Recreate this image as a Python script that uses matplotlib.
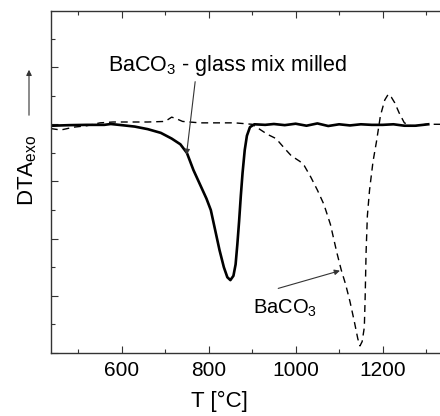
import numpy as np
import matplotlib.pyplot as plt
from matplotlib.ticker import MultipleLocator

plt.rcParams['font.family'] = ['Liberation Sans', 'DejaVu Sans']
plt.rcParams['mathtext.fontset'] = 'custom'
plt.rcParams['mathtext.rm'] = 'Liberation Sans'
plt.rcParams['mathtext.it'] = 'Liberation Sans'
plt.rcParams['mathtext.default'] = 'regular'

# =========================
# DATA
# =========================
# BaCO3 - glass mix milled (solid)
t_mix = [440, 480, 520, 560, 575, 600, 630, 660, 690, 715, 735, 750, 765, 780,
         795, 805, 815, 825, 835, 843, 850, 857, 862, 866, 870, 874, 878, 883,
         888, 895, 905, 930, 950, 975, 1000, 1025, 1050, 1075, 1100, 1125,
         1150, 1175, 1200, 1225, 1250, 1275, 1305]
dta_mix = [-0.05, -0.03, -0.02, -0.02, 0.01, -0.03, -0.08, -0.17, -0.3, -0.5,
           -0.7, -1.0, -1.6, -2.1, -2.6, -3.0, -3.7, -4.4, -5.0, -5.35, -5.45,
           -5.3, -4.9, -4.2, -3.4, -2.5, -1.7, -0.9, -0.4, -0.1, 0.0, -0.02,
           0.01, -0.03, 0.02, -0.05, 0.03, -0.06, 0.0, -0.04, 0.0, -0.02,
           -0.02, 0.0, -0.05, -0.05, 0.0]

# BaCO3 (dashed)
t_ba = [437, 460, 490, 520, 550, 580, 620, 660, 700, 715, 725, 740, 780, 820,
        860, 900, 915, 935, 955, 975, 990, 1010, 1020, 1035, 1050, 1065, 1080,
        1095, 1105, 1115, 1125, 1135, 1143, 1148, 1153, 1158, 1160, 1162,
        1165, 1170, 1178, 1186, 1195, 1205, 1213, 1220, 1228, 1238, 1250,
        1265, 1280, 1300, 1340]
dta_ba = [-0.15, -0.2, -0.1, -0.05, 0.05, 0.08, 0.08, 0.08, 0.1, 0.25, 0.2,
          0.1, 0.05, 0.05, 0.05, 0.0, -0.15, -0.35, -0.5, -0.85, -1.1, -1.3,
          -1.45, -1.85, -2.3, -2.8, -3.5, -4.5, -5.1, -5.6, -6.2, -6.9, -7.5,
          -7.75, -7.6, -7.1, -6.0, -4.5, -3.2, -2.3, -1.3, -0.6, 0.3, 0.85,
          1.05, 0.95, 0.75, 0.4, 0.05, -0.05, -0.05, 0.0, 0.0]

# =========================
# PLOT
# =========================
fig = plt.figure(figsize=(4.4, 4.16), dpi=100)
ax = fig.add_axes([0.1159, 0.1514, 0.892, 0.822])

ax.plot(t_mix, dta_mix, color='black', lw=1.9, solid_joinstyle='round')
ax.plot(t_ba, dta_ba, color='black', lw=1.0, linestyle=(0, (5, 3.5)))

ax.set_xlim(437.5, 1340)
ax.set_ylim(-8.0, 3.96)

ax.xaxis.set_major_locator(MultipleLocator(200))
ax.xaxis.set_minor_locator(MultipleLocator(100))
ax.yaxis.set_major_locator(MultipleLocator(2))
ax.yaxis.set_minor_locator(MultipleLocator(1))
ax.tick_params(which='both', direction='in', top=True, right=False,
               labelleft=False, width=0.8, colors='#333333')
ax.tick_params(which='major', length=5, labelsize=15, labelcolor='black', pad=6)
ax.tick_params(which='minor', length=3)
for side in ['left', 'bottom', 'top']:
    ax.spines[side].set_linewidth(1.0)
    ax.spines[side].set_color('#333333')
ax.spines['right'].set_visible(False)

ax.set_xlabel('T [°C]', fontsize=16)
ax.xaxis.set_label_coords(0.43, -0.11)

# annotations
ax.annotate('', xy=(749, -1.07), xytext=(769, 1.49),
            arrowprops=dict(arrowstyle='-|>', color='#333333', lw=0.8,
                            mutation_scale=8, shrinkA=0, shrinkB=0))
ax.text(568, 1.86, 'BaCO$_3$ - glass mix milled', fontsize=15.5, ha='left',
        va='baseline')

ax.annotate('', xy=(1102, -5.12), xytext=(960, -5.74),
            arrowprops=dict(arrowstyle='-|>', color='#333333', lw=0.8,
                            mutation_scale=8, shrinkA=0, shrinkB=0))
ax.text(901, -6.63, 'BaCO$_3$', fontsize=14.5, ha='left', va='baseline')

# y label with arrow
fig.text(28 / 440, 1 - 170 / 416, 'DTA$_{exo}$', rotation=90, fontsize=16,
         ha='center', va='center')
fig.add_artist(plt.matplotlib.patches.FancyArrowPatch(
    (29 / 440, 1 - 118 / 416), (29 / 440, 1 - 67 / 416),
    transform=fig.transFigure, arrowstyle='-|>', mutation_scale=8,
    color='#333333', lw=0.8))

fig.savefig('out.png', dpi=100)
